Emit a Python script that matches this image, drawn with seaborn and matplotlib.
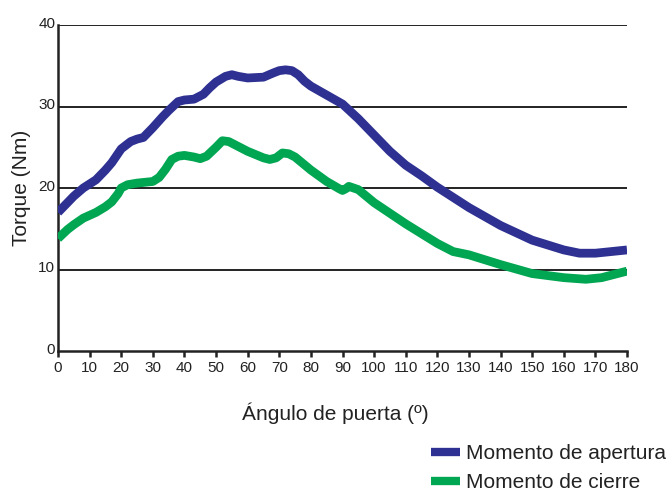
import matplotlib
matplotlib.use("Agg")
import matplotlib.pyplot as plt
import matplotlib.transforms as mtrans
from matplotlib.lines import Line2D
import seaborn as sns
import pandas as pd

sns.set_theme(style="white")
plt.rcParams['font.family'] = ['Liberation Sans', 'DejaVu Sans']

angle_open = [0, 3, 5, 8, 12, 15, 17, 20, 23, 25, 27, 30, 33, 35, 38, 40, 43, 46, 48, 50, 53, 55,
              57, 60, 65, 68, 70, 72, 74, 76, 78, 80, 85, 90, 95, 100, 105, 110, 115, 120, 130,
              140, 150, 160, 165, 170, 175, 180]
torque_open = [17.0, 18.2, 19.0, 20.0, 21.0, 22.2, 23.1, 24.8, 25.7, 26.0, 26.2, 27.4, 28.7, 29.5,
               30.6, 30.8, 30.9, 31.5, 32.3, 33.0, 33.7, 33.9, 33.7, 33.5, 33.6, 34.1, 34.4, 34.5,
               34.4, 33.9, 33.1, 32.5, 31.4, 30.3, 28.5, 26.5, 24.5, 22.8, 21.5, 20.1, 17.6, 15.4,
               13.6, 12.4, 12.0, 12.0, 12.2, 12.4]

angle_close = [0, 3, 5, 8, 12, 15, 17, 19, 20, 22, 25, 30, 32, 34, 36, 38, 40, 43, 45, 47, 50,
               52, 54, 57, 60, 65, 67, 69, 71, 73, 75, 80, 85, 89, 90, 91, 92, 95, 100, 110, 120,
               125, 130, 140, 150, 160, 167, 172, 176, 180]
torque_close = [13.8, 14.9, 15.5, 16.3, 17.0, 17.7, 18.3, 19.3, 20.0, 20.4, 20.6, 20.8, 21.3, 22.3,
                23.5, 23.9, 24.0, 23.8, 23.6, 23.9, 25.0, 25.8, 25.7, 25.1, 24.5, 23.7, 23.5, 23.7,
                24.3, 24.2, 23.8, 22.2, 20.8, 19.9, 19.7, 19.9, 20.2, 19.8, 18.2, 15.6, 13.2, 12.2,
                11.8, 10.6, 9.5, 9.0, 8.8, 9.0, 9.4, 9.8]

series_names = ["Momento de apertura", "Momento de cierre"]
colors = ["#2E3192", "#00A651"]
x_ticks = list(range(0, 181, 10))
y_ticks = [0, 10, 20, 30, 40]

df = pd.concat([
    pd.DataFrame({"angle": angle_open, "torque": torque_open, "serie": series_names[0]}),
    pd.DataFrame({"angle": angle_close, "torque": torque_close, "serie": series_names[1]}),
])

fig = plt.figure(figsize=(6.69, 4.93), dpi=100)
ax = fig.add_axes([58/669, 1-351/493, (627-58)/669, (351-25)/493])

for yv in y_ticks[1:]:
    ax.axhline(yv, color="#222222", lw=1.4, zorder=1)

sns.lineplot(data=df, x="angle", y="torque", hue="serie", palette=colors,
             linewidth=6.3, ax=ax, legend=False, sort=True, zorder=3,
             solid_joinstyle="round", solid_capstyle="butt")

ax.set_xlim(0, 180)
ax.set_ylim(0, 40)
ax.set_xticks(x_ticks)
ax.set_xticklabels([str(v) for v in x_ticks], fontsize=11, color="#222222")
ax.set_yticks(y_ticks)
ax.set_yticklabels([str(v) for v in y_ticks], fontsize=11, color="#222222")
ax.tick_params(axis="x", direction="out", length=4, width=1.8, color="#222222", pad=3, bottom=True)
ax.tick_params(axis="y", length=0, pad=2)
for lbl in ax.get_yticklabels():
    lbl.set_transform(lbl.get_transform() + mtrans.ScaledTranslation(0, 2/72, fig.dpi_scale_trans))

for s in ["top", "right"]:
    ax.spines[s].set_visible(False)
for s in ["left", "bottom"]:
    ax.spines[s].set_color("#222222")
    ax.spines[s].set_linewidth(1.8)

ax.set_xlabel("")
ax.set_ylabel("Torque (Nm)", fontsize=15, color="#222222", labelpad=5)
fig.text(335/669, 1-413/493, "Ángulo de puerta (º)", fontsize=15, color="#222222",
         ha="center", va="center")

handles = [Line2D([0], [0], color=c, lw=6, solid_capstyle="butt") for c in colors]
leg = fig.legend(handles, series_names, loc="upper left", bbox_to_anchor=(431/669, 1-444/493),
                 frameon=False, fontsize=15, handlelength=1.4, handletextpad=0.3,
                 labelspacing=0.5, borderaxespad=0, borderpad=0)
for t in leg.get_texts():
    t.set_color("#222222")

fig.savefig("out.png", dpi=100)
